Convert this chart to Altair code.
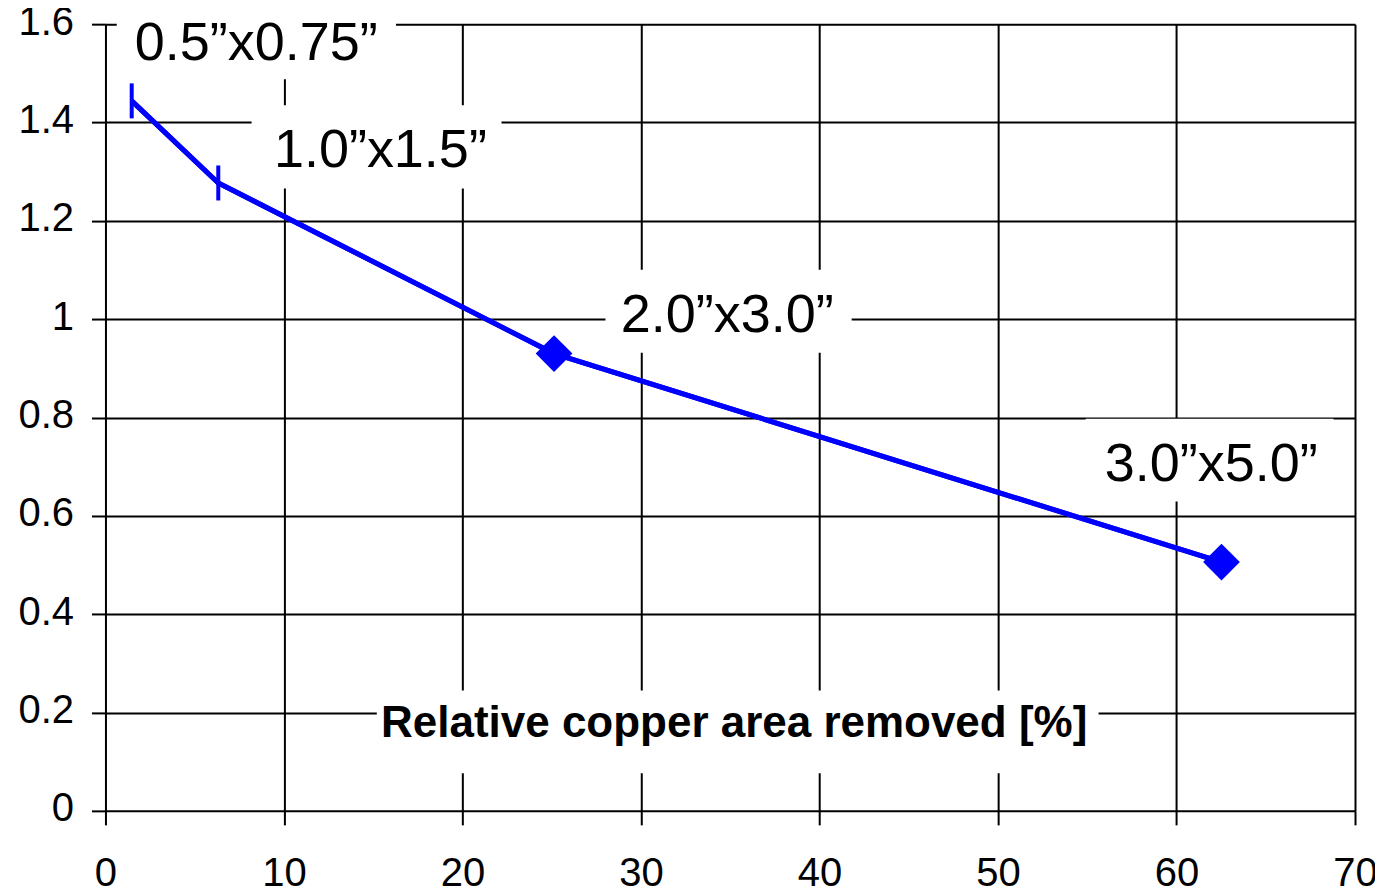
import altair as alt
import pandas as pd

# ---- data ----
removed_pct = [1.47, 6.32, 25.13, 62.52]
ratio = [1.444, 1.277, 0.930, 0.506]
marker = ["tick", "tick", "diamond", "diamond"]

label_text = ["0.5\u201dx0.75\u201d", "1.0\u201dx1.5\u201d", "2.0\u201dx3.0\u201d", "3.0\u201dx5.0\u201d"]
label_x = [8.45, 15.40, 34.83, 61.95]
label_y = [1.567, 1.349, 1.014, 0.710]

x_title = "Relative copper area removed [%]"
x_title_x = [35.22]
x_title_y = [0.183]

x_ticks = [0, 10, 20, 30, 40, 50, 60, 70]
y_ticks = [0, 0.2, 0.4, 0.6, 0.8, 1.0, 1.2, 1.4, 1.6]

# ---- tables ----
pts = pd.DataFrame({"x": removed_pct, "y": ratio, "marker": marker})
labels = pd.DataFrame({"x": label_x, "y": label_y, "text": label_text})
title_df = pd.DataFrame({"x": x_title_x, "y": x_title_y, "text": [x_title]})

FONT = "Liberation Sans"
BLUE = "#0000FF"

xs = alt.Scale(domain=[0, 70], nice=False, zero=True)
ys = alt.Scale(domain=[0, 1.6], nice=False, zero=True)

x_axis = alt.Axis(values=x_ticks, grid=True, gridColor="black", gridWidth=2, gridOpacity=1,
                  tickColor="black", tickWidth=2, tickSize=14, domain=False,
                  labelFont=FONT, labelFontSize=40, labelColor="black", labelPadding=29,
                  title=None, format="~g", labelFlush=False, labelOverlap=False)
y_axis = alt.Axis(values=y_ticks, grid=True, gridColor="black", gridWidth=2, gridOpacity=1,
                  tickColor="black", tickWidth=2, tickSize=14, domain=False,
                  labelFont=FONT, labelFontSize=40, labelColor="black", labelPadding=18,
                  labelOffset=-2, title=None, format="~g", labelFlush=False, labelOverlap=False)

X = alt.X("x:Q", scale=xs, axis=x_axis)
Y = alt.Y("y:Q", scale=ys, axis=y_axis)
Xn = alt.X("x:Q", scale=xs)
Yn = alt.Y("y:Q", scale=ys)


def rect_path(l, r, t, b):
    return f"M{l},{t}H{r}V{b}H{l}Z"


# white boxes behind the labels (pixel offsets relative to the label centre)
box_geom = [(-139.6, 139.7, -44.0, 39.0),
            (-128.8, 121.2, -42.3, 41.0),
            (-121.8, 124.5, -42.6, 40.4),
            (-125.7, 122.3, -43.0, 39.7)]
title_box = (-357.5, 364.5, -30.3, 52.3)

base = alt.Chart(pts).mark_line(color=BLUE, strokeWidth=5).encode(x=X, y=Y)

layers = [base]
for i, g in enumerate(box_geom):
    layers.append(
        alt.Chart(labels.iloc[[i]]).mark_point(
            shape=rect_path(*g), size=4, filled=True, fill="white",
            opacity=1, strokeWidth=0
        ).encode(x=Xn, y=Yn)
    )
layers.append(
    alt.Chart(title_df).mark_point(
        shape=rect_path(*title_box), size=4, filled=True, fill="white",
        opacity=1, strokeWidth=0
    ).encode(x=Xn, y=Yn)
)

line = alt.Chart(pts).mark_line(color=BLUE, strokeWidth=5).encode(x=Xn, y=Yn)
ticks = alt.Chart(pts).transform_filter(alt.datum.marker == "tick").mark_point(
    shape="M0,-17.5L0,17.5", size=4, filled=False, stroke=BLUE, strokeWidth=4, opacity=1
).encode(x=Xn, y=Yn)
diamonds = alt.Chart(pts).transform_filter(alt.datum.marker == "diamond").mark_point(
    shape="diamond", size=1350, filled=True, fill=BLUE, opacity=1, strokeWidth=0
).encode(x=Xn, y=Yn)

label_marks = alt.Chart(labels).mark_text(
    font=FONT, fontSize=54, color="black", align="center", baseline="alphabetic", dy=19.3
).encode(x=Xn, y=Yn, text="text:N")

title_mark = alt.Chart(title_df).mark_text(
    font=FONT, fontSize=44, fontWeight="bold", color="black", align="center",
    baseline="alphabetic", dy=15.8
).encode(x=Xn, y=Yn, text="text:N")

layers += [line, ticks, diamonds, label_marks, title_mark]

chart = alt.layer(*layers).properties(
    width=1250, height=787,
    autosize=alt.AutoSizeParams(type="none"),
    padding={"left": 97.5, "top": 16, "right": 20, "bottom": 80},
).configure_view(strokeWidth=0).configure(background="white")

chart.save("out.html", embed_options={"renderer": "svg", "actions": False})
